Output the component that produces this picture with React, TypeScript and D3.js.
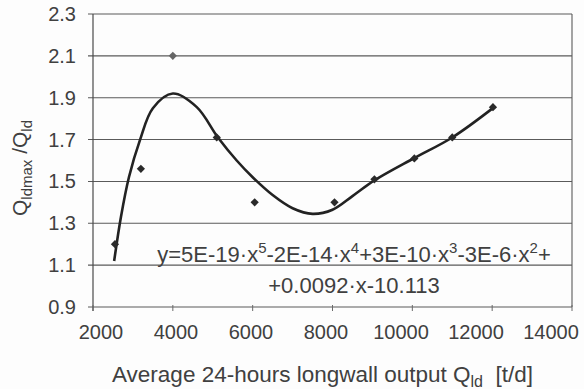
import React, { useEffect, useRef } from 'react';
import * as d3 from 'd3';

// measured points (diamond markers)
const outputX = [2550, 3200, 4000, 5100, 6050, 8050, 9050, 10050, 11000, 12020];
const ratioY = [1.2, 1.56, 2.1, 1.71, 1.4, 1.4, 1.51, 1.61, 1.71, 1.855];

// polynomial trend curve
const trendX = [2530, 2700, 2900, 3180, 3500, 4000, 4600, 5130, 5600, 6000, 6500, 7000, 7500, 8000, 8500, 9050, 10050, 11000, 12050];
const trendY = [1.12, 1.33, 1.52, 1.7, 1.85, 1.92, 1.855, 1.71, 1.6, 1.52, 1.435, 1.372, 1.345, 1.365, 1.43, 1.505, 1.612, 1.71, 1.855];

const xTicks = [2000, 4000, 6000, 8000, 10000, 12000, 14000];
const yTicks = [0.9, 1.1, 1.3, 1.5, 1.7, 1.9, 2.1, 2.3];

const W = 584;
const H = 389;

const App: React.FC = () => {
  const svgRef = useRef<SVGSVGElement | null>(null);

  useEffect(() => {
    if (!svgRef.current) return;
    const svg = d3.select(svgRef.current);
    svg.selectAll('*').remove();

    const left = 93, right = 572, top = 14, bottom = 307;
    const ink = '#404040';
    const font = '"Liberation Sans", Arial, sans-serif';

    const x = d3.scaleLinear().domain([2000, 14000]).range([left, right]);
    const y = d3.scaleLinear().domain([0.9, 2.3]).range([bottom, top]);
    // the scanned labels sit a little to the left of their ticks
    const xLabel = d3.scaleLinear().domain([2000, 14000]).range([101, 551]);

    svg.append('rect').attr('width', W).attr('height', H).attr('fill', '#fdfdfd');

    // gridlines + y ticks
    svg.append('g')
      .selectAll('line')
      .data(yTicks)
      .enter()
      .append('line')
      .attr('x1', left - 5)
      .attr('x2', right)
      .attr('y1', (d) => y(d))
      .attr('y2', (d) => y(d))
      .attr('stroke', '#5a5a5a')
      .attr('stroke-width', 1.1);

    // frame sides
    svg.append('line').attr('x1', left).attr('x2', left).attr('y1', top).attr('y2', bottom + 4)
      .attr('stroke', '#4a4a4a').attr('stroke-width', 1.2);
    svg.append('line').attr('x1', right).attr('x2', right).attr('y1', top).attr('y2', bottom)
      .attr('stroke', '#5a5a5a').attr('stroke-width', 1.1);

    // x ticks
    svg.append('g')
      .selectAll('line')
      .data(xTicks)
      .enter()
      .append('line')
      .attr('x1', (d) => x(d))
      .attr('x2', (d) => x(d))
      .attr('y1', bottom - 2)
      .attr('y2', bottom + 4)
      .attr('stroke', '#6a6a6a')
      .attr('stroke-width', 1);

    // y tick labels
    svg.append('g')
      .selectAll('text')
      .data(yTicks)
      .enter()
      .append('text')
      .attr('x', 76)
      .attr('y', (d) => y(d) + 7)
      .attr('text-anchor', 'end')
      .attr('font-family', font)
      .attr('font-size', 20)
      .attr('fill', ink)
      .text((d) => d3.format('.1f')(d));

    // x tick labels
    svg.append('g')
      .selectAll('text')
      .data(xTicks)
      .enter()
      .append('text')
      .attr('x', (d) => xLabel(d))
      .attr('y', 339)
      .attr('text-anchor', 'middle')
      .attr('font-family', font)
      .attr('font-size', 20)
      .attr('fill', ink)
      .text((d) => String(d));

    // trend curve
    const line = d3
      .line<number>()
      .x((d, i) => x(trendX[i]))
      .y((d) => y(d))
      .curve(d3.curveCatmullRom.alpha(0.5));

    svg.append('path')
      .datum(trendY)
      .attr('fill', 'none')
      .attr('stroke', '#222')
      .attr('stroke-width', 2.6)
      .attr('d', line);

    // diamonds (rotated squares)
    const diamond = d3.symbol().type(d3.symbolSquare).size(34);
    svg.append('g')
      .selectAll('path')
      .data(ratioY)
      .enter()
      .append('path')
      .attr('d', diamond)
      .attr('transform', (d, i) => `translate(${x(outputX[i])},${y(d)}) rotate(45)`)
      .attr('fill', (d, i) => (i === 2 ? '#666' : '#2a2a2a'));

    // equation
    const eq = svg.append('text')
      .attr('x', 354)
      .attr('y', 262)
      .attr('text-anchor', 'middle')
      .attr('font-family', font)
      .attr('font-size', 22)
      .attr('fill', ink);
    const parts: [string, boolean][] = [
      ['y=5E-19·x', false], ['5', true], ['-2E-14·x', false], ['4', true],
      ['+3E-10·x', false], ['3', true], ['-3E-6·x', false], ['2', true], ['+', false],
    ];
    let up = false;
    parts.forEach(([t, sup]) => {
      const ts = eq.append('tspan').text(t);
      if (sup && !up) { ts.attr('dy', -9).attr('font-size', 15); up = true; }
      else if (!sup && up) { ts.attr('dy', 9); up = false; }
    });
    svg.append('text')
      .attr('x', 354)
      .attr('y', 293)
      .attr('text-anchor', 'middle')
      .attr('font-family', font)
      .attr('font-size', 22)
      .attr('fill', ink)
      .text('+0.0092·x-10.113');

    // x title
    const xt = svg.append('text')
      .attr('x', 112)
      .attr('y', 382)
      .attr('font-family', font)
      .attr('font-size', 22.5)
      .attr('fill', ink);
    xt.append('tspan').text('Average 24-hours longwall output Q');
    xt.append('tspan').attr('dy', 5).attr('font-size', 16).text('ld');
    xt.append('tspan').attr('dy', -5).text('\u00a0\u00a0[t/d]');

    // y title
    const yt = svg.append('text')
      .attr('transform', 'translate(27,216) rotate(-90)')
      .attr('font-family', font)
      .attr('font-size', 21)
      .attr('fill', ink);
    yt.append('tspan').text('Q');
    yt.append('tspan').attr('dy', 5).attr('font-size', 15).text('ldmax');
    yt.append('tspan').attr('dy', -5).text('\u00a0/Q');
    yt.append('tspan').attr('dy', 5).attr('font-size', 15).text('ld');
  }, []);

  return (
    <div style={{ position: 'absolute', left: 0, top: 0 }}>
      <svg ref={svgRef} width={W} height={H} style={{ display: 'block' }} />
    </div>
  );
};

export default App;
